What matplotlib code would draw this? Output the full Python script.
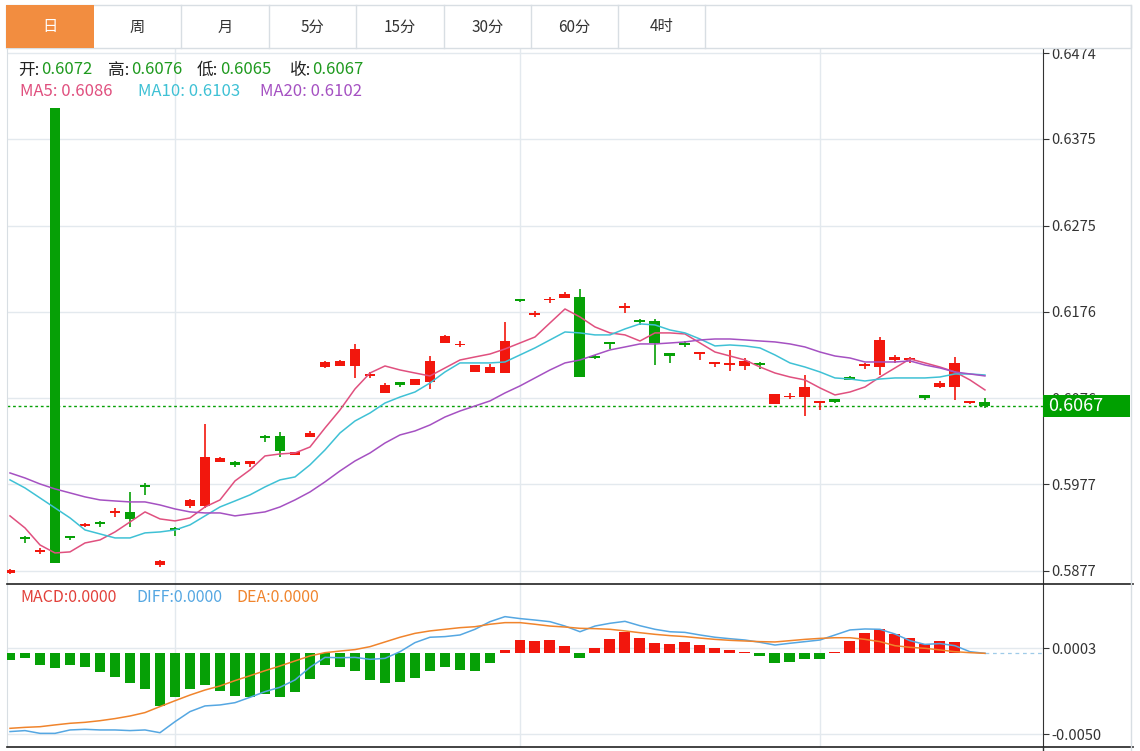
import numpy as np
import matplotlib
matplotlib.use('Agg')
import matplotlib.pyplot as plt
import matplotlib.transforms as mtrans
from matplotlib.patches import Rectangle
from matplotlib.lines import Line2D
from matplotlib.ticker import FormatStrFormatter

plt.rcParams['font.family'] = ['Noto Sans CJK SC', 'DejaVu Sans']

# daily candles
opens = [0.58747, 0.59162, 0.58989, 0.64106, 0.59174, 0.59289, 0.59335, 0.59439, 0.59450, 0.59756,
         0.58839, 0.59266, 0.59519, 0.59519, 0.60026, 0.60021, 0.60003, 0.60326, 0.60326, 0.60107,
         0.60315, 0.61121, 0.61133, 0.61133, 0.61018, 0.60822, 0.60949, 0.60914, 0.60949, 0.61398,
         0.61375, 0.61064, 0.61052, 0.61052, 0.61905, 0.61721, 0.61888, 0.61917, 0.61928, 0.61248,
         0.61410, 0.61801, 0.61663, 0.61652, 0.61283, 0.61398, 0.61271, 0.61156, 0.61144, 0.61133,
         0.61168, 0.60695, 0.60770, 0.60776, 0.60707, 0.60753, 0.61006, 0.61133, 0.61121, 0.61202,
         0.61202, 0.60799, 0.60891, 0.60891, 0.60707, 0.6072]
highs = [0.58793, 0.59174, 0.59035, 0.64106, 0.59174, 0.59324, 0.59347, 0.59496, 0.59681, 0.59784,
         0.58897, 0.59278, 0.59600, 0.60464, 0.60084, 0.60038, 0.60038, 0.60338, 0.60372, 0.60142,
         0.60384, 0.61185, 0.61202, 0.61387, 0.61064, 0.60937, 0.60949, 0.60983, 0.61248, 0.61490,
         0.61421, 0.61144, 0.61156, 0.61640, 0.61905, 0.61767, 0.61928, 0.61986, 0.62020, 0.61260,
         0.61410, 0.61859, 0.61675, 0.61675, 0.61283, 0.61421, 0.61294, 0.61179, 0.61318, 0.61225,
         0.61179, 0.60810, 0.60822, 0.61029, 0.60730, 0.60753, 0.61018, 0.61168, 0.61467, 0.61260,
         0.61237, 0.60799, 0.60960, 0.61237, 0.60730, 0.6076]
lows = [0.58736, 0.59093, 0.58966, 0.58862, 0.59128, 0.59278, 0.59278, 0.59393, 0.59278, 0.59646,
        0.58816, 0.59174, 0.59496, 0.59496, 0.60026, 0.59969, 0.59969, 0.60257, 0.60084, 0.60107,
        0.60315, 0.61110, 0.61133, 0.60995, 0.60995, 0.60822, 0.60891, 0.60914, 0.60868, 0.61398,
        0.61352, 0.61064, 0.61052, 0.61052, 0.61870, 0.61698, 0.61859, 0.61917, 0.61006, 0.61214,
        0.61329, 0.61744, 0.61605, 0.61144, 0.61168, 0.61352, 0.61202, 0.61121, 0.61075, 0.61087,
        0.61098, 0.60695, 0.60753, 0.60557, 0.60626, 0.60707, 0.60972, 0.61098, 0.61029, 0.61168,
        0.61168, 0.60741, 0.60880, 0.60741, 0.60695, 0.6065]
closes = [0.58782, 0.59139, 0.59012, 0.58862, 0.59151, 0.59312, 0.59312, 0.59450, 0.59370, 0.59738,
          0.58880, 0.59243, 0.59588, 0.60084, 0.60073, 0.59992, 0.60038, 0.60303, 0.60153, 0.60136,
          0.60361, 0.61179, 0.61191, 0.61329, 0.61041, 0.60914, 0.60914, 0.60983, 0.61191, 0.61479,
          0.61392, 0.61144, 0.61121, 0.61421, 0.61882, 0.61744, 0.61905, 0.61963, 0.61006, 0.61225,
          0.61381, 0.61830, 0.61640, 0.61398, 0.61248, 0.61375, 0.61294, 0.61179, 0.61168, 0.61191,
          0.61144, 0.60810, 0.60787, 0.60891, 0.60730, 0.60718, 0.60972, 0.61156, 0.61433, 0.61237,
          0.61225, 0.60764, 0.60937, 0.61168, 0.60724, 0.6067]

ma5 = [0.59405, 0.59266, 0.59070, 0.58978, 0.58990, 0.59093, 0.59128, 0.59220, 0.59335, 0.59451,
       0.59370, 0.59347, 0.59382, 0.59508, 0.59589, 0.59808, 0.59935, 0.60096, 0.60119, 0.60130,
       0.60199, 0.60418, 0.60626, 0.60868, 0.61052, 0.61133, 0.61087, 0.61052, 0.61018, 0.61110,
       0.61202, 0.61237, 0.61271, 0.61329, 0.61398, 0.61467, 0.61629, 0.61790, 0.61698, 0.61583,
       0.61514, 0.61491, 0.61421, 0.61514, 0.61514, 0.61502, 0.61398, 0.61294, 0.61248, 0.61202,
       0.61121, 0.61052, 0.61006, 0.60972, 0.60880, 0.60799, 0.60833, 0.60891, 0.61006, 0.61110,
       0.61214, 0.61168, 0.61121, 0.61064, 0.60972, 0.60857]
ma10 = [0.59820, 0.59727, 0.59612, 0.59497, 0.59382, 0.59243, 0.59197, 0.59151, 0.59151, 0.59209,
        0.59220, 0.59243, 0.59301, 0.59405, 0.59508, 0.59577, 0.59647, 0.59739, 0.59820, 0.59854,
        0.59993, 0.60165, 0.60361, 0.60499, 0.60591, 0.60706, 0.60775, 0.60833, 0.60937, 0.61064,
        0.61168, 0.61168, 0.61168, 0.61179, 0.61260, 0.61341, 0.61433, 0.61525, 0.61514, 0.61491,
        0.61491, 0.61560, 0.61618, 0.61606, 0.61548, 0.61514, 0.61444, 0.61364, 0.61375, 0.61364,
        0.61341, 0.61260, 0.61168, 0.61121, 0.61064, 0.60995, 0.60983, 0.60960, 0.60983, 0.60995,
        0.60995, 0.60995, 0.61006, 0.61041, 0.61041, 0.61029]
ma20 = [0.59900, 0.59842, 0.59773, 0.59716, 0.59670, 0.59624, 0.59589, 0.59577, 0.59566, 0.59566,
        0.59531, 0.59485, 0.59451, 0.59439, 0.59439, 0.59405, 0.59428, 0.59451, 0.59508, 0.59589,
        0.59681, 0.59797, 0.59923, 0.60038, 0.60130, 0.60245, 0.60338, 0.60384, 0.60453, 0.60545,
        0.60614, 0.60672, 0.60730, 0.60822, 0.60903, 0.60995, 0.61087, 0.61168, 0.61202, 0.61260,
        0.61318, 0.61352, 0.61387, 0.61387, 0.61398, 0.61410, 0.61433, 0.61444, 0.61444, 0.61433,
        0.61421, 0.61410, 0.61387, 0.61352, 0.61294, 0.61248, 0.61225, 0.61179, 0.61179, 0.61179,
        0.61191, 0.61144, 0.61110, 0.61064, 0.61041, 0.61018]

macd = [-0.00041, -0.00031, -0.00072, -0.00092, -0.00072, -0.00082, -0.00113, -0.00144, -0.00185, -0.00220,
        -0.00322, -0.00267, -0.00220, -0.00195, -0.00230, -0.00261, -0.00267, -0.00253, -0.00271, -0.00240,
        -0.00160, -0.00070, -0.00086, -0.00109, -0.00164, -0.00185, -0.00177, -0.00150, -0.00109, -0.00086,
        -0.00103, -0.00107, -0.00057, 0.00021, 0.00082, 0.00076, 0.00080, 0.00045, -0.00031, 0.00031,
        0.00086, 0.00129, 0.00096, 0.00062, 0.00057, 0.00068, 0.00049, 0.00031, 0.00023, 0.00010,
        -0.00016, -0.00057, -0.00053, -0.00037, -0.00033, 0.00010, 0.00076, 0.00123, 0.00148, 0.00117,
        0.00092, 0.00055, 0.00076, 0.00072, 0.0, 0.0]
diff = [-0.00482, -0.00476, -0.00493, -0.00493, -0.00472, -0.00468, -0.00472, -0.00472, -0.00476, -0.00472,
        -0.00489, -0.00421, -0.00359, -0.00324, -0.00318, -0.00304, -0.00271, -0.00236, -0.00209, -0.00164,
        -0.00086, -0.00025, -0.00027, -0.00025, -0.00037, -0.00031, 0.00010, 0.00066, 0.00099, 0.00103,
        0.00113, 0.00148, 0.00195, 0.00226, 0.00214, 0.00205, 0.00195, 0.00168, 0.00133, 0.00168,
        0.00185, 0.00197, 0.00170, 0.00148, 0.00133, 0.00129, 0.00113, 0.00099, 0.00090, 0.00082,
        0.00068, 0.00051, 0.00062, 0.00072, 0.00082, 0.00113, 0.00144, 0.00150, 0.00148, 0.00119,
        0.00078, 0.00055, 0.00060, 0.00047, 0.00010, 0.0]
dea = [-0.00462, -0.00456, -0.00452, -0.00441, -0.00431, -0.00425, -0.00415, -0.00402, -0.00386, -0.00365,
       -0.00328, -0.00292, -0.00257, -0.00226, -0.00201, -0.00168, -0.00138, -0.00107, -0.00078, -0.00047,
       -0.00016, 0.00004, 0.00014, 0.00023, 0.00041, 0.00070, 0.00099, 0.00123, 0.00138, 0.00148,
       0.00158, 0.00164, 0.00179, 0.00189, 0.00189, 0.00179, 0.00168, 0.00162, 0.00154, 0.00152,
       0.00148, 0.00138, 0.00127, 0.00117, 0.00109, 0.00103, 0.00094, 0.00086, 0.00080, 0.00076,
       0.00072, 0.00070, 0.00078, 0.00086, 0.00092, 0.00096, 0.00096, 0.00086, 0.00072, 0.00047,
       0.00037, 0.00031, 0.00021, 0.00010, 0.00004, 0.0]

price_ticks = [0.5877, 0.5977, 0.6076, 0.6176, 0.6275, 0.6375, 0.6474]
macd_ticks = [-0.0050, 0.0003]
month_starts = [11, 34, 54]
tabs = ['日', '周', '月', '5分', '15分', '30分', '60分', '4时']

RED = '#f2170d'
GREEN = '#06a006'
GRID = '#e3e9ee'
BORDER = '#d8dee3'

W, H = 1140, 751
fig = plt.figure(figsize=(W / 100, H / 100), dpi=100)


def fx(px):
    return px / W


def fy(py):
    return 1 - py / H


ax = fig.add_axes([fx(7), fy(584), fx(1043) - fx(7), fy(48) - fy(584)])
ax2 = fig.add_axes([fx(7), fy(747), fx(1043) - fx(7), fy(584) - fy(747)])

x = np.arange(len(closes))
o = np.array(opens)
c = np.array(closes)
h = np.array(highs)
l = np.array(lows)
cols = np.where(c >= o, RED, GREEN)
xmax = 68.87

# candles
ax.vlines(x, l, h, colors=cols, lw=1.2, zorder=3)
body = np.maximum(np.abs(c - o), 0.00017)
ax.bar(x, body, bottom=np.minimum(o, c), width=0.73, color=cols, edgecolor='none', zorder=4)

ax.plot(x, ma5, color='#e0507f', lw=1.1, zorder=5)
ax.plot(x, ma10, color='#3fc1d5', lw=1.1, zorder=5)
ax.plot(x, ma20, color='#a551c2', lw=1.1, zorder=5)
ax.axhline(closes[-1], color=GREEN, ls=(0, (2, 2)), lw=1, zorder=2)

ax.set_xlim(-0.2, xmax)
ax.set_ylim(0.58620, 0.64798)
ax.set_yticks(price_ticks)
ax.yaxis.set_major_formatter(FormatStrFormatter('%.4f'))
ax.set_xticks(month_starts)
ax.grid(True, color=GRID, lw=1, zorder=0)
ax.yaxis.tick_right()
ax.tick_params(axis='y', length=4, color='#333333', labelsize=10.5, labelcolor='#333333', pad=2)
ax.tick_params(axis='x', length=0, labelbottom=False)
for s in ['top', 'bottom']:
    ax.spines[s].set_visible(False)
ax.spines['left'].set_color(BORDER)
ax.spines['right'].set_color('#333333')

# last price tag (covers the 0.6076 label like the original)
bt = mtrans.blended_transform_factory(ax.transAxes, ax.transData)
ax.add_patch(Rectangle((1.0, closes[-1] - 0.00125), 87 / 1036, 0.0025, transform=bt,
                       facecolor='#00a000', edgecolor='none', clip_on=False, zorder=10))
ax.text(1.005, closes[-1], '%.4f' % closes[-1], transform=bt, color='white', fontsize=13,
        va='center', ha='left', zorder=11, clip_on=False)

# MACD panel
ax2.bar(x, macd, width=0.73, color=np.where(np.array(macd) >= 0, RED, GREEN), edgecolor='none', zorder=3)
ax2.plot(x, diff, color='#55a7e2', lw=1.1, zorder=4)
ax2.plot(x, dea, color='#f0842c', lw=1.1, zorder=4)
ax2.plot([x[-1], xmax], [0, 0], ls=(0, (3, 3)), color='#9fcbe8', lw=0.9, zorder=2)
ax2.set_xlim(-0.2, xmax)
ax2.set_ylim(-0.00577, 0.00427)
ax2.set_yticks(macd_ticks)
ax2.yaxis.set_major_formatter(FormatStrFormatter('%.4f'))
ax2.set_xticks(month_starts)
ax2.grid(True, color=GRID, lw=1, zorder=0)
ax2.yaxis.tick_right()
ax2.tick_params(axis='y', length=4, color='#333333', labelsize=10.5, labelcolor='#333333', pad=2)
ax2.tick_params(axis='x', length=0, labelbottom=False)
for s in ['top', 'bottom']:
    ax2.spines[s].set_visible(False)
ax2.spines['left'].set_color(BORDER)
ax2.spines['right'].set_color('#333333')

# frame lines
fig.add_artist(Line2D([fx(7), fx(1133)], [fy(584), fy(584)], color='#222222', lw=1.2))
fig.add_artist(Line2D([fx(7), fx(1133)], [fy(747), fy(747)], color='#222222', lw=1.2))
fig.add_artist(Line2D([fx(1131), fx(1131)], [fy(5), fy(751)], color=BORDER, lw=1))
fig.add_artist(Line2D([fx(1043), fx(1043)], [fy(747), fy(751)], color='#333333', lw=1))

# tab bar
fig.add_artist(Rectangle((fx(6), fy(48)), fx(1131) - fx(6), fy(5) - fy(48), facecolor='white',
                         edgecolor=BORDER, lw=1))
fig.add_artist(Rectangle((fx(6), fy(48)), fx(94) - fx(6), fy(5) - fy(48), facecolor='#f28d40',
                         edgecolor='none'))
seps = [94, 181, 269, 356, 444, 531, 618, 705]
for s in seps[1:]:
    fig.add_artist(Line2D([fx(s), fx(s)], [fy(5), fy(48)], color=BORDER, lw=1))
for i, t in enumerate(tabs):
    left = 6 if i == 0 else seps[i - 1]
    fig.text(fx((left + seps[i]) / 2), fy(27), t, ha='center', va='center', fontsize=11,
             color='white' if i == 0 else '#333333')

# info lines
VAL = '#1f9a1f'
ohlc = [('开:', 18, opens[-1], 41), ('高:', 108, highs[-1], 131),
        ('低:', 197, lows[-1], 220), ('收:', 290, closes[-1], 312)]
for lab, lx, v, vx in ohlc:
    fig.text(fx(lx), fy(70), lab, color='#222222', fontsize=12, va='center')
    fig.text(fx(vx), fy(70), '%.4f' % v, color=VAL, fontsize=12, va='center')

fig.text(fx(20), fy(92), 'MA5: %.4f' % 0.6086, color='#e0507f', fontsize=12, va='center')
fig.text(fx(138), fy(92), 'MA10: %.4f' % 0.6103, color='#3fc1d5', fontsize=12, va='center')
fig.text(fx(260), fy(92), 'MA20: %.4f' % 0.6102, color='#a551c2', fontsize=12, va='center')

fig.text(fx(20), fy(598), 'MACD:0.0000', color='#e2403a', fontsize=11.5, va='center')
fig.text(fx(136), fy(598), 'DIFF:0.0000', color='#55a7e2', fontsize=11.5, va='center')
fig.text(fx(236), fy(598), 'DEA:0.0000', color='#f0842c', fontsize=11.5, va='center')

fig.savefig('out.png', dpi=100)
